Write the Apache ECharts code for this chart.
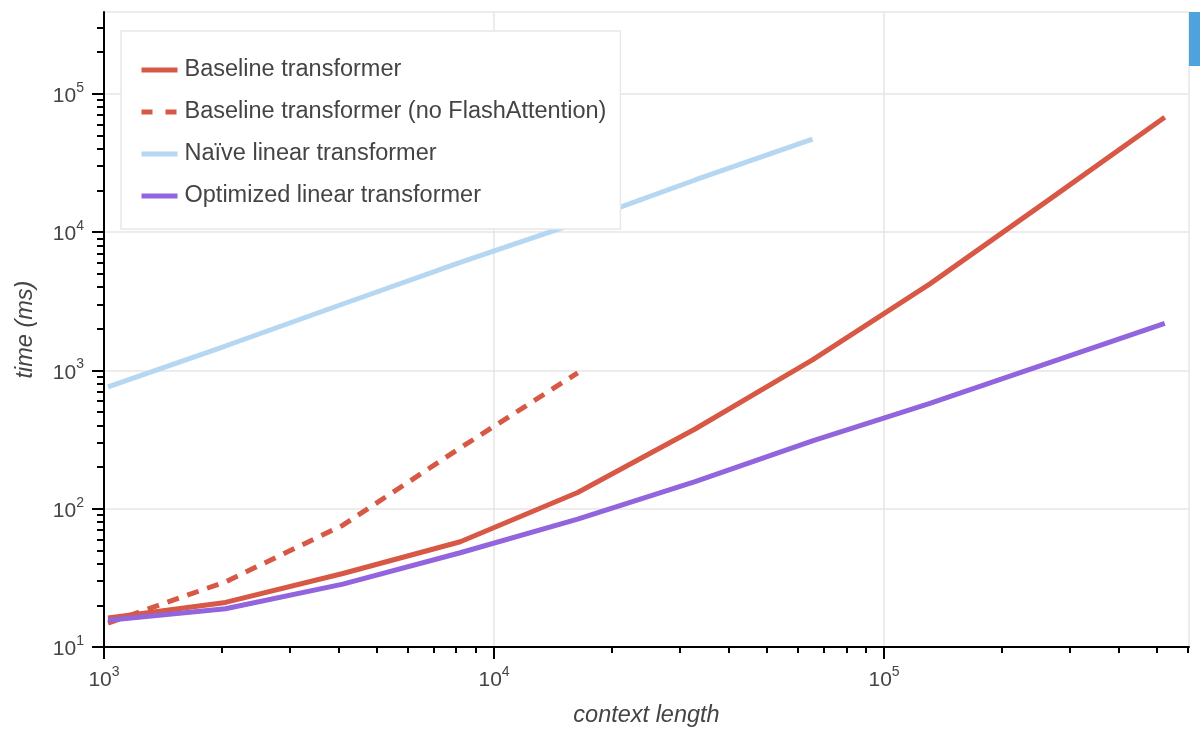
<!DOCTYPE html>
<html>
<head>
<meta charset="utf-8">
<title>time vs context length</title>
<script src="https://cdn.jsdelivr.net/npm/echarts@6/dist/echarts.min.js"></script>
<style>
    html, body { margin: 0; padding: 0; background: #fff; }
    #chart { width: 1200px; height: 744px; }
</style>
</head>
<body>
<div id="chart"></div>
<script>
// context lengths (x), powers of two
const contextLengths = [1024, 2048, 4096, 8192, 16384, 32768, 65536, 131072, 262144, 524288];

// times in ms
const baseline = [16.2, 21, 34, 57.7, 131, 377, 1190, 4220, 16800, 67600];
const baselineNoFlash = [14.9, 29.6, 76, 275, 960];
const naiveLinear = [760, 1500, 3020, 6030, 11700, 23800, 46900];
const optimizedLinear = [15.6, 18.9, 28.5, 48, 84, 157, 309, 578, 1125, 2190];

const seriesNames = [
    'Baseline transformer',
    'Baseline transformer (no FlashAttention)',
    'Naïve linear transformer',
    'Optimized linear transformer'
];

// axis ticks
const xMajorTicks = [1e3, 1e4, 1e5];
const yMajorTicks = [1e1, 1e2, 1e3, 1e4, 1e5];
const xRange = [1000, 605000];
const yRange = [10, 390000];

const FONT = 'Helvetica, "Liberation Sans", Arial, sans-serif';
const TEXT = '#444';

// minor ticks at 2..9 x 10^n inside the range
function minorTicks(range) {
    const out = [];
    for (let p = Math.floor(Math.log10(range[0])); p <= Math.ceil(Math.log10(range[1])); p++) {
        for (let m = 2; m <= 9; m++) {
            const v = m * Math.pow(10, p);
            if (v > range[0] && v <= range[1]) out.push(v);
        }
    }
    return out;
}

function pairs(ys) {
    return ys.map((y, i) => [contextLengths[i], y]);
}

const powLabel = {
    formatter: v => '{b|10}{s|' + Math.round(Math.log10(v)) + '}',
    rich: {
        b: {fontSize: 21, lineHeight: 26, verticalAlign: 'bottom', color: TEXT, fontFamily: FONT},
        s: {fontSize: 14, lineHeight: 18, verticalAlign: 'top', color: TEXT, fontFamily: FONT}
    }
};

const chart = echarts.init(document.getElementById('chart'));

chart.setOption({
    animation: false,
    textStyle: {fontFamily: FONT},
    grid: {
        left: 104,
        right: 11,
        top: 12,
        bottom: 97,
        show: true,
        borderColor: '#e6e6e6',
        borderWidth: 1.5,
        containLabel: false,
        outerBoundsMode: 'none'
    },
    legend: {
        orient: 'vertical',
        left: 121,
        top: 31,
        padding: [27, 14, 21, 18],
        backgroundColor: '#fff',
        borderColor: '#e8e8e8',
        borderWidth: 1.5,
        itemWidth: 36,
        itemHeight: 14,
        itemGap: 18,
        // hide the symbol that line series put in their legend icon
        itemStyle: {color: 'rgba(0,0,0,0)', borderWidth: 0, opacity: 0},
        lineStyle: {width: 5},
        textStyle: {fontSize: 23.5, color: TEXT, lineHeight: 22, padding: [0, 0, 0, 2], fontFamily: FONT},
        data: [
            {name: seriesNames[0]},
            {name: seriesNames[1], lineStyle: {width: 5, type: [11, 13]}},
            {name: seriesNames[2]},
            {name: seriesNames[3]}
        ]
    },
    xAxis: [{
        type: 'log',
        logBase: 10,
        min: xRange[0],
        max: xRange[1],
        name: 'context length',
        nameLocation: 'middle',
        nameGap: 57,
        nameTextStyle: {fontSize: 23.5, fontStyle: 'italic', color: TEXT},
        axisLine: {lineStyle: {color: '#000', width: 2}},
        axisTick: {customValues: xMajorTicks, length: 12, lineStyle: {color: '#000', width: 2}},
        axisLabel: Object.assign({customValues: xMajorTicks, margin: 18}, powLabel),
        splitLine: {show: true, lineStyle: {color: '#e6e6e6', width: 1.5}}
    }, {
        // minor ticks only
        type: 'log',
        position: 'bottom',
        min: xRange[0],
        max: xRange[1],
        axisLine: {show: false},
        axisTick: {customValues: minorTicks(xRange), length: 6, lineStyle: {color: '#000', width: 2}},
        axisLabel: {show: false},
        splitLine: {show: false}
    }],
    yAxis: [{
        type: 'log',
        logBase: 10,
        min: yRange[0],
        max: yRange[1],
        name: 'time (ms)',
        nameLocation: 'middle',
        nameGap: 67,
        nameTextStyle: {fontSize: 23.5, fontStyle: 'italic', color: TEXT},
        axisLine: {lineStyle: {color: '#000', width: 2}},
        axisTick: {customValues: yMajorTicks, length: 12, lineStyle: {color: '#000', width: 2}},
        axisLabel: Object.assign({customValues: yMajorTicks, margin: 20}, powLabel),
        splitLine: {show: true, lineStyle: {color: '#e6e6e6', width: 1.5}}
    }, {
        type: 'log',
        position: 'left',
        min: yRange[0],
        max: yRange[1],
        axisLine: {show: false},
        axisTick: {customValues: minorTicks(yRange), length: 7, lineStyle: {color: '#000', width: 2}},
        axisLabel: {show: false},
        splitLine: {show: false}
    }],
    graphic: [{
        // the blue strip in the top right corner of the screenshot
        type: 'rect',
        right: 0,
        top: 12,
        shape: {width: 11, height: 54},
        style: {fill: '#4fa3dd'}
    }],
    series: [{
        name: seriesNames[0],
        type: 'line',
        symbol: 'none',
        color: '#d85846',
        lineStyle: {width: 5},
        data: pairs(baseline)
    }, {
        name: seriesNames[1],
        type: 'line',
        symbol: 'none',
        color: '#d85846',
        lineStyle: {width: 5, type: [12, 9]},
        data: pairs(baselineNoFlash)
    }, {
        name: seriesNames[2],
        type: 'line',
        symbol: 'none',
        color: '#b6d7f1',
        lineStyle: {width: 5},
        data: pairs(naiveLinear)
    }, {
        name: seriesNames[3],
        type: 'line',
        symbol: 'none',
        color: '#9264dd',
        lineStyle: {width: 5},
        data: pairs(optimizedLinear)
    }]
});
</script>
</body>
</html>
